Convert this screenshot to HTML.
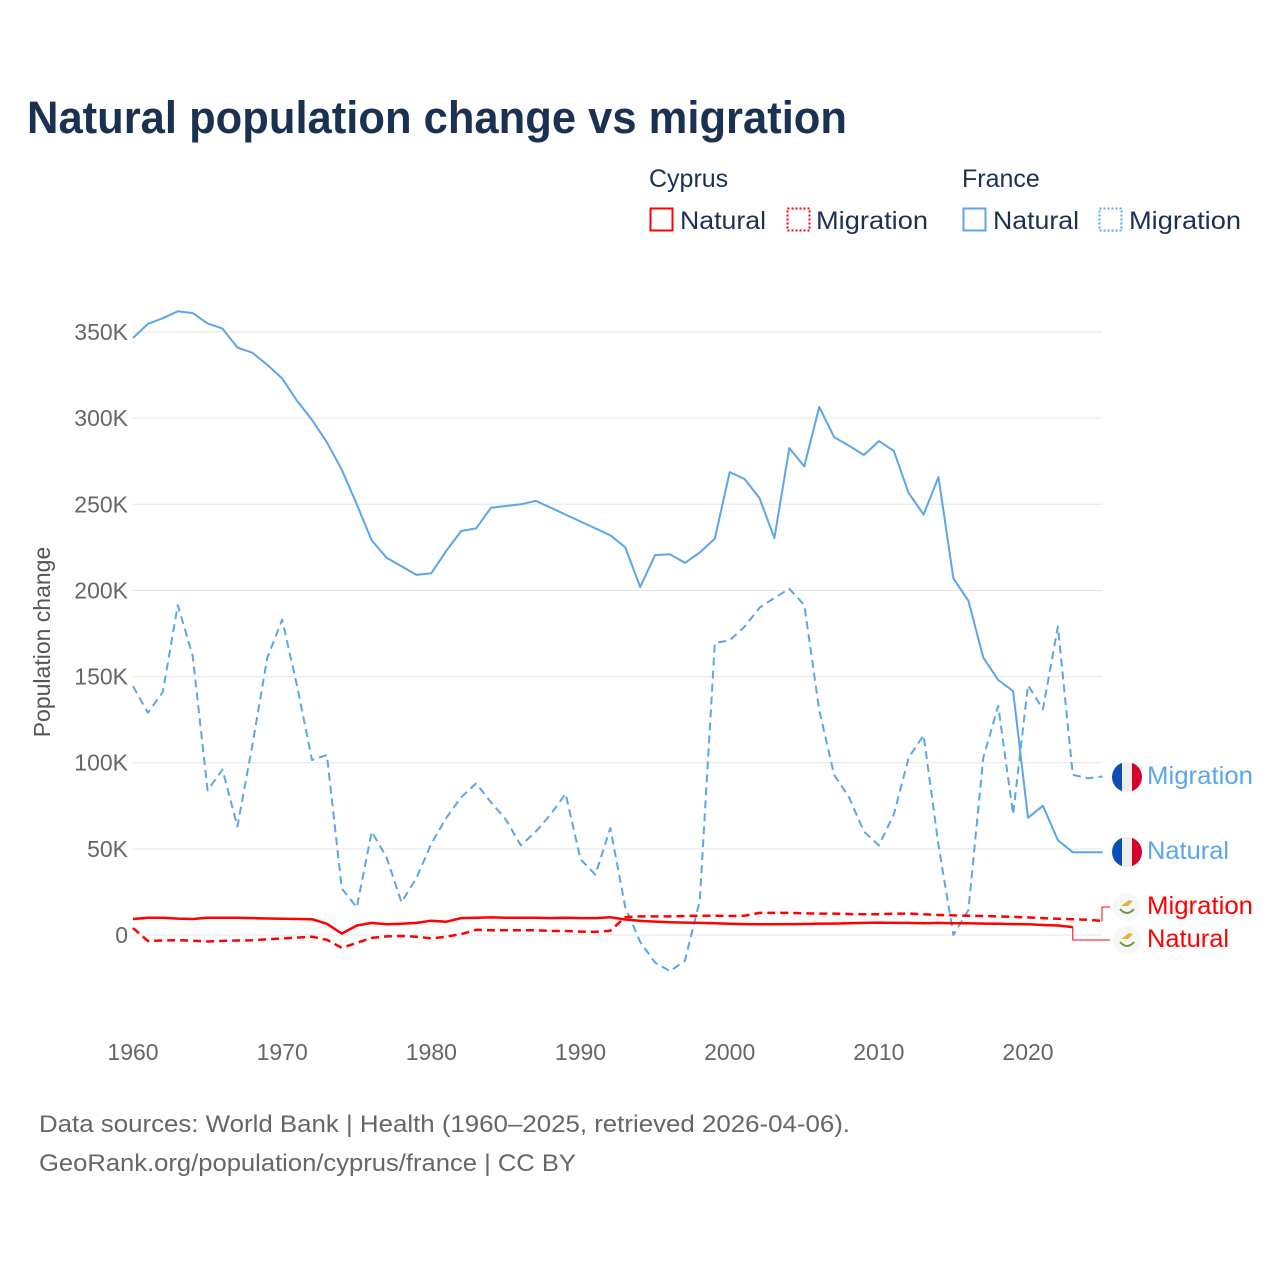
<!DOCTYPE html>
<html><head><meta charset="utf-8">
<style>
body{margin:0;background:#fff;width:1280px;height:1280px;overflow:hidden;font-family:"Liberation Sans",sans-serif}
svg{display:block}
</style></head>
<body>
<svg id="chart" width="1280" height="1280" xmlns="http://www.w3.org/2000/svg">
<text x="27" y="133" font-size="45" font-weight="bold" fill="#1b3152" textLength="820" lengthAdjust="spacingAndGlyphs">Natural population change vs migration</text>
<g font-size="25" fill="#1b3152">
<text x="649" y="187">Cyprus</text>
<text x="962" y="187">France</text>
<g><rect x="650.5" y="208.5" width="22" height="22" fill="none" stroke="#ff0000" stroke-width="2"/><text x="680" y="229" textLength="86" lengthAdjust="spacingAndGlyphs">Natural</text></g>
<g><rect x="787.5" y="208.5" width="22" height="22" fill="none" stroke="#ff0000" stroke-width="2" stroke-dasharray="2,2"/><text x="816" y="229" textLength="112" lengthAdjust="spacingAndGlyphs">Migration</text></g>
<g><rect x="963.5" y="208.5" width="22" height="22" fill="none" stroke="#5ba5ea" stroke-width="2"/><text x="993" y="229" textLength="86" lengthAdjust="spacingAndGlyphs">Natural</text></g>
<g><rect x="1099.5" y="208.5" width="22" height="22" fill="none" stroke="#5ba5ea" stroke-width="2" stroke-dasharray="2,2"/><text x="1129" y="229" textLength="112" lengthAdjust="spacingAndGlyphs">Migration</text></g>
</g>
<text transform="translate(50,642) rotate(-90)" text-anchor="middle" font-size="23" fill="#555">Population change</text>
<g id="grid"></g><g id="series"></g><g id="labels"></g>
<text x="39" y="1132" font-size="24" fill="#666" textLength="811" lengthAdjust="spacingAndGlyphs">Data sources: World Bank | Health (1960–2025, retrieved 2026-04-06).</text>
<text x="39" y="1171" font-size="24" fill="#666" textLength="537" lengthAdjust="spacingAndGlyphs">GeoRank.org/population/cyprus/france | CC BY</text>
</svg>
<script>
const years=[];for(let y=1960;y<=2025;y++)years.push(y);
const yTicks=[0,50000,100000,150000,200000,250000,300000,350000];
const yTickLabels=["0","50K","100K","150K","200K","250K","300K","350K"];
const xTicks=[1960,1970,1980,1990,2000,2010,2020];
const franceNatural=[346.5,354.7,358,362,361,355,352,341,338,331,323,310,299,286,270,250,229,219,214,209,210,223,234.5,236,248,249,250,252,248,244,240,236,232,225,202,220.5,221,216,222,230,268.7,264.7,253.6,230.4,282.6,272,306.5,289,284,278.6,286.7,281,256.5,244,265.8,207,194,161,148,141.6,68,75,55,48,48,48];
const franceMigration=[144.5,129,141,191.5,162,84,96,63,110,161,183,144.5,101.6,104.5,27,16,60,45,19,33,53,68,80,88,77,67,52,60,70,82,44,35,62,16,-4,-16,-21,-15,20,169.5,171,179,190,195.6,201,191.5,130.6,93,80,60,52,70,103,116,52,0,14.5,103,133,70,145,131,179,93,91,92];
const cyprusNatural=[9.3,10,10,9.5,9.3,10,10,10,9.8,9.6,9.4,9.3,9.2,6.5,0.8,5.5,7,6.2,6.5,7,8.3,7.7,9.8,10,10.2,10,10,10,9.8,10,9.8,9.8,10.3,9,8.2,7.8,7.4,7.2,7,6.8,6.5,6.3,6.2,6.2,6.3,6.4,6.6,6.6,6.8,7,7.2,7,7,6.8,7,6.8,6.8,6.6,6.5,6.3,6.2,5.8,5.5,4.6];
const cyprusMigration=[4,-3.5,-3.2,-3,-3.3,-3.8,-3.4,-3.2,-3,-2.5,-2,-1.5,-1,-2.8,-7.5,-4.5,-1.7,-0.8,-0.6,-1,-2,-1,0.5,3,2.8,2.8,2.8,2.8,2.3,2.3,2,1.8,2.5,10.4,10.8,10.8,10.8,11,11.2,11.2,11,11.2,12.8,12.8,12.8,12.6,12.4,12.4,12.2,12,12,12.4,12.4,12,11.6,11.4,11.2,11,10.8,10.5,10.2,9.8,9.4,9.2,8.8,8.2];
const x=v=>133+(v-1960)*14.917;
const y=v=>935-v/50000*86.14;
const NS="http://www.w3.org/2000/svg";
function mk(tag,attrs,parent){const e=document.createElementNS(NS,tag);for(const k in attrs)e.setAttribute(k,attrs[k]);parent.appendChild(e);return e;}
const grid=document.getElementById('grid');
yTicks.forEach((t,i)=>{
 const l=mk('line',{x1:133,x2:1102,y1:y(t),y2:y(t),stroke:'#e6e6e6','stroke-width':1},grid);
 
 
 const tx=mk('text',{x:128,y:y(t)+8,'text-anchor':'end','font-size':23,fill:'#666'},grid);
 tx.textContent=yTickLabels[i];
 
 
});
xTicks.forEach(t=>{
 const tx=mk('text',{x:x(t),y:1060,'text-anchor':'middle','font-size':23,fill:'#666'},grid);
 tx.textContent=t;
 
 
});
const ser=document.getElementById('series');
function line(vals,scale,color,dash,name,w){
 const pts=vals.map((v,i)=>x(years[i]).toFixed(1)+','+y(v*scale).toFixed(1)).join(' ');
 const p=mk('polyline',{points:pts,fill:'none',stroke:color,'stroke-width':w,'stroke-linejoin':'round'},ser);
 if(dash)p.setAttribute('stroke-dasharray',dash);
 
 
 return p;
}
line(franceNatural,1000,'#5ba5ea',null,'line-france-natural',2);
line(franceMigration,1000,'#5ba5ea','8,5','line-france-migration',2);
line(cyprusNatural,1000,'#ff0000',null,'line-cyprus-natural',2.5);
line(cyprusMigration,1000,'#ff0000','8,5','line-cyprus-migration',2.5);
const cnEnd=y(cyprusNatural[cyprusNatural.length-1]*1000);
const c1=mk('polyline',{points:`${x(2023)},${cnEnd} ${x(2023)},940 1110,940`,fill:'none',stroke:'#ff0000','stroke-width':1},ser);


const cmEnd=y(cyprusMigration[cyprusMigration.length-1]*1000);
const c2=mk('polyline',{points:`${x(2025)},${cmEnd} 1102,${cmEnd} 1102,907 1110,907`,fill:'none',stroke:'#ff0000','stroke-width':1},ser);


const lab=document.getElementById('labels');
function flagFR(cy,name){
 const g=mk('g',{},lab);
 
 
 mk('clipPath',{id:name+'-c'},g).appendChild(document.createElementNS(NS,'circle'));
 const c=g.querySelector('circle');c.setAttribute('cx',1127);c.setAttribute('cy',cy);c.setAttribute('r',15);
 const gg=mk('g',{'clip-path':`url(#${name}-c)`},g);
 mk('rect',{x:1112,y:cy-15,width:10,height:30,fill:'#0a50b4'},gg);
 mk('rect',{x:1122,y:cy-15,width:10,height:30,fill:'#eeeeee'},gg);
 mk('rect',{x:1132,y:cy-15,width:10,height:30,fill:'#d6002d'},gg);
}
function flagCY(cy,name){
 const g=mk('g',{},lab);
 
 
 mk('circle',{cx:1127,cy:cy,r:14,fill:'#f7f7f7'},g);
 mk('path',{d:`M1121 ${cy-1} l8 -6 l4 1 l-5 5 z`,fill:'#e6b23a'},g);
 mk('path',{d:`M1120 ${cy+2} q7 8 14 0`,fill:'none',stroke:'#6a9a3a','stroke-width':2},g);
}
function label(txt,ty,color,name,len){
 const t=mk('text',{x:1147,y:ty,'font-size':25,fill:color,textLength:len,lengthAdjust:'spacingAndGlyphs'},lab);
 t.textContent=txt;
 
 
}
flagFR(777,'flag-france-migration');label('Migration',784,'#5ba5ea','label-france-migration',106);
flagFR(852,'flag-france-natural');label('Natural',859,'#5ba5ea','label-france-natural',82);
flagCY(907,'flag-cyprus-migration');label('Migration',914,'#ff0000','label-cyprus-migration',106);
flagCY(940,'flag-cyprus-natural');label('Natural',947,'#ff0000','label-cyprus-natural',82);
</script>
</body></html>
